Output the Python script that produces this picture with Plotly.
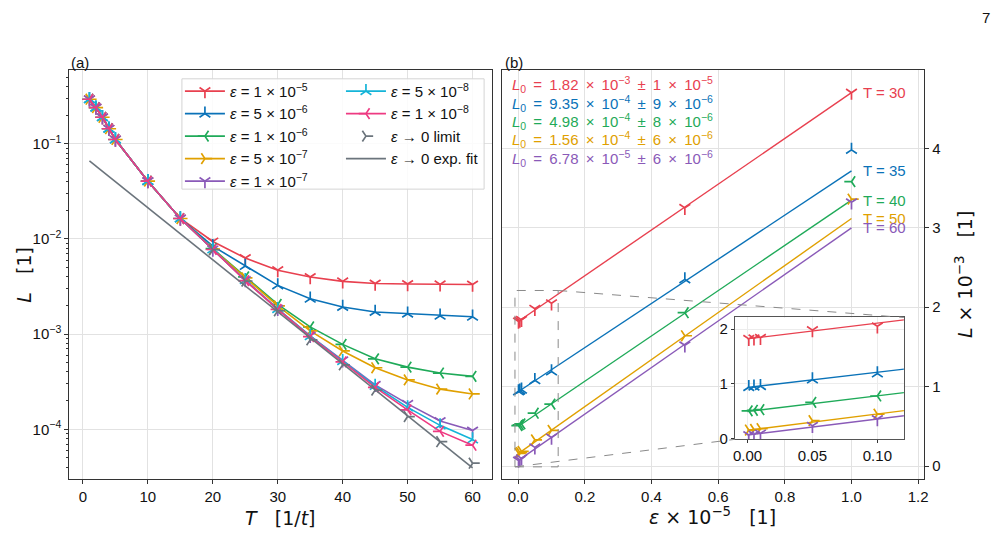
import plotly.graph_objects as go

# ---------------- data ----------------
T_early = [1, 2, 3, 4, 5, 10, 15]
L_early = [0.294, 0.240, 0.190, 0.144, 0.111, 0.0405, 0.0164]
T_late = [20, 25, 30, 35, 40, 45, 50, 55, 60]

eps_labels = ["1 × 10<sup>−5</sup>", "5 × 10<sup>−6</sup>", "1 × 10<sup>−6</sup>",
              "5 × 10<sup>−7</sup>", "1 × 10<sup>−7</sup>", "5 × 10<sup>−8</sup>",
              "1 × 10<sup>−8</sup>"]
eps_scaled = [1.0, 0.5, 0.1, 0.05, 0.01, 0.005, 0.001]   # eps x 1e5

L_eps_1e5 = [9.4e-3, 6.3e-3, 4.70e-3, 3.98e-3, 3.58e-3, 3.40e-3, 3.36e-3, 3.33e-3, 3.32e-3]
L_eps_5e6 = [8.4e-3, 5.2e-3, 3.25e-3, 2.35e-3, 1.93e-3, 1.71e-3, 1.64e-3, 1.56e-3, 1.52e-3]
L_eps_1e6 = [7.9e-3, 4.0e-3, 2.05e-3, 1.19e-3, 0.78e-3, 0.55e-3, 0.45e-3, 0.39e-3, 0.36e-3]
L_eps_5e7 = [7.8e-3, 3.9e-3, 1.98e-3, 1.08e-3, 0.665e-3, 0.443e-3, 0.33e-3, 0.264e-3, 0.235e-3]
L_eps_1e7 = [7.75e-3, 3.7e-3, 1.84e-3, 0.96e-3, 0.53e-3, 0.293e-3, 0.185e-3, 0.122e-3, 0.097e-3]
L_eps_5e8 = [7.75e-3, 3.68e-3, 1.83e-3, 0.95e-3, 0.52e-3, 0.285e-3, 0.17e-3, 0.11e-3, 0.078e-3]
L_eps_1e8 = [7.75e-3, 3.65e-3, 1.82e-3, 0.94e-3, 0.51e-3, 0.275e-3, 0.16e-3, 0.095e-3, 0.068e-3]
L_series = [L_eps_1e5, L_eps_5e6, L_eps_1e6, L_eps_5e7, L_eps_1e7, L_eps_5e8, L_eps_1e8]

T_limit = [20, 25, 30, 35, 40, 45, 50, 55, 60]
L_limit = [7.7e-3, 3.6e-3, 1.76e-3, 8.7e-4, 4.75e-4, 2.58e-4, 1.36e-4, 7.4e-5, 4.4e-5]

T_fitline = [1, 60]
L_fitline = [6.6e-2, 3.93e-5]

# panel (b)
T_fit = [30, 35, 40, 50, 60]
L0 = [1.82, 0.935, 0.498, 0.156, 0.0678]          # x 1e-3
slope = [2.88, 2.78, 2.85, 2.96, 2.93]
L0_mant = ["1.82", "9.35", "4.98", "1.56", "6.78"]
L0_exp = [-3, -4, -4, -4, -5]
err_mant = ["1", "9", "8", "6", "6"]
err_exp = [-5, -6, -6, -6, -6]

# ---------------- style ----------------
colors = ["#E8404F", "#0A72B8", "#1FAA59", "#E0A000", "#8A5AB8", "#14B4D8", "#EE3A82"]
gray = "#6B747C"
symbols = ["y-down", "y-up", "y-left", "y-right"]
FONT = "Liberation Sans, Arial, sans-serif"
MATH = "DejaVu Sans, sans-serif"
W, H = 1002, 537
S = "\u2009"   # thin space for math-like spacing

def px(x):
    return x / W

def py(y):
    return 1 - y / H

dom_a_x = [px(67.7), px(493)]
dom_b_x = [px(502.7), px(927.7)]
dom_y = [py(486), py(71.5)]
dom_in_x = [px(737.3), px(907.3)]
dom_in_y = [py(446), py(322.3)]

rng_a_x = [-2.1, 63.0]
rng_a_y = [-4.52, -0.229]
rng_b_x = [-0.0495, 1.218]
rng_b_y = [-0.16, 4.98]
rng_in_x = [-0.0097, 0.1204]
rng_in_y = [-0.01, 2.21]

fig = go.Figure()

# ---- panel (a)
for i, (lab, Ls) in enumerate(zip(eps_labels, L_series)):
    fig.add_trace(go.Scatter(
        x=T_early + T_late, y=L_early + Ls, mode="lines+markers",
        name="<i>ε</i> = " + lab,
        line=dict(color=colors[i], width=1.6),
        marker=dict(symbol=symbols[i % 4], size=9, color=colors[i],
                    line=dict(color=colors[i], width=1.7)),
        xaxis="x", yaxis="y",
        legend="legend" if i < 5 else "legend2"))

fig.add_trace(go.Scatter(
    x=T_limit, y=L_limit, mode="markers", name="<i>ε</i> → 0 limit",
    marker=dict(symbol=symbols[7 % 4], size=9, color=gray, line=dict(color=gray, width=1.7)),
    xaxis="x", yaxis="y", legend="legend2"))
fig.add_trace(go.Scatter(
    x=T_fitline, y=L_fitline, mode="lines", name="<i>ε</i> → 0 exp. fit",
    line=dict(color=gray, width=1.6), xaxis="x", yaxis="y", legend="legend2"))

# ---- panel (b) + inset
for ax_x, ax_y in [("x2", "y2"), ("x3", "y3")]:
    for k, T in enumerate(T_fit):
        j = T_late.index(T)
        fig.add_trace(go.Scatter(
            x=[0, 1.0], y=[L0[k], L0[k] + slope[k]], mode="lines",
            line=dict(color=colors[k], width=1.4), showlegend=False,
            xaxis=ax_x, yaxis=ax_y, hoverinfo="skip"))
        fig.add_trace(go.Scatter(
            x=eps_scaled, y=[Ls[j] * 1e3 for Ls in L_series], mode="markers",
            marker=dict(symbol=symbols[k % 4], size=9, color=colors[k],
                        line=dict(color=colors[k], width=1.7)),
            showlegend=False, xaxis=ax_x, yaxis=ax_y))

grid = "#e2e2e2"
axline = "#333333"
tickfont = dict(family=FONT, size=15, color="#111")

dec = [1e-4, 1e-3, 1e-2, 1e-1]
minor_vals = [m * d for d in [1e-5, 1e-4, 1e-3, 1e-2, 1e-1] for m in range(2, 10)]

legfont = dict(family=FONT, size=15, color="#111")

fig.update_layout(
    width=W, height=H, margin=dict(l=0, r=0, t=0, b=0),
    paper_bgcolor="white", plot_bgcolor="white",
    font=dict(family=FONT, size=15, color="#111"),
    xaxis=dict(domain=dom_a_x, range=rng_a_x, anchor="y", tickvals=[0, 10, 20, 30, 40, 50, 60],
               ticks="outside", ticklen=4, tickcolor=axline, showline=True, mirror=True,
               linecolor=axline, linewidth=1, showgrid=True, gridcolor=grid, zeroline=False,
               tickfont=tickfont),
    yaxis=dict(domain=dom_y, type="log", range=rng_a_y, anchor="x", tickvals=dec,
               ticktext=["10<sup>−4</sup>", "10<sup>−3</sup>", "10<sup>−2</sup>", "10<sup>−1</sup>"],
               ticks="outside", ticklen=4, tickcolor=axline, showline=True, mirror=True,
               linecolor=axline, linewidth=1, showgrid=True, gridcolor=grid, zeroline=False,
               tickfont=tickfont,
               minor=dict(tickvals=minor_vals, ticks="outside", ticklen=2, tickcolor=axline,
                          showgrid=False)),
    xaxis2=dict(domain=dom_b_x, range=rng_b_x, anchor="y2",
                tickvals=[0, 0.2, 0.4, 0.6, 0.8, 1.0, 1.2], tickformat=".1f",
                ticks="outside", ticklen=4, tickcolor=axline, showline=True, mirror=True,
                linecolor=axline, linewidth=1, showgrid=True, gridcolor=grid, zeroline=False,
                tickfont=tickfont),
    yaxis2=dict(domain=dom_y, range=rng_b_y, anchor="x2", side="right", tickvals=[0, 1, 2, 3, 4],
                ticks="outside", ticklen=4, tickcolor=axline, showline=True, mirror=True,
                linecolor=axline, linewidth=1, showgrid=True, gridcolor=grid, zeroline=False,
                tickfont=tickfont),
    xaxis3=dict(domain=dom_in_x, range=rng_in_x, anchor="y3", tickvals=[0, 0.05, 0.10],
                tickformat=".2f", ticks="outside", ticklen=3, tickcolor=axline, showline=True,
                mirror=True, linecolor="#555", linewidth=1, showgrid=True, gridcolor="#ececec",
                zeroline=False, tickfont=tickfont),
    yaxis3=dict(domain=dom_in_y, range=rng_in_y, anchor="x3", tickvals=[0, 1, 2],
                ticks="outside", ticklen=3, tickcolor=axline, showline=True, mirror=True,
                linecolor="#555", linewidth=1, showgrid=True, gridcolor="#ececec",
                zeroline=False, tickfont=tickfont),
    legend=dict(x=px(179), y=py(76), xanchor="left", yanchor="top", bgcolor="rgba(0,0,0,0)",
                borderwidth=0, font=legfont, tracegroupgap=0, itemwidth=40),
    legend2=dict(x=px(341), y=py(76), xanchor="left", yanchor="top", bgcolor="rgba(0,0,0,0)",
                 borderwidth=0, font=legfont, tracegroupgap=0, itemwidth=40),
)

# legend frame
fig.add_shape(type="rect", xref="paper", yref="paper", x0=px(181), x1=px(485),
              y0=py(192), y1=py(80), line=dict(color="#d4d4d4", width=1),
              fillcolor="rgba(255,255,255,0.85)", layer="above")

# zoom rectangle and connectors
rect_x = [rng_in_x[0], 0.12]
rect_y = [rng_in_y[0], rng_in_y[1]]
fig.add_shape(type="rect", xref="x2", yref="y2", x0=rect_x[0], x1=rect_x[1],
              y0=rect_y[0], y1=rect_y[1], line=dict(color="#8a8a8a", width=1, dash="dash"))

def to_paper(v, rng, dom):
    return dom[0] + (v - rng[0]) / (rng[1] - rng[0]) * (dom[1] - dom[0])

conn = [((rect_x[1], rect_y[1]), (dom_in_x[1], dom_in_y[1])),
        ((rect_x[0], rect_y[0]), (dom_in_x[0], dom_in_y[0]))]
for (dx, dy), (ix, iy) in conn:
    fig.add_shape(type="line", xref="paper", yref="paper",
                  x0=to_paper(dx, rng_b_x, dom_b_x), y0=to_paper(dy, rng_b_y, dom_y),
                  x1=ix, y1=iy, line=dict(color="#8a8a8a", width=1, dash="dash"))

# L0 texts and T labels
for k in range(len(T_fit)):
    txt = ("<i>L</i><sub>0</sub>" + S + " = " + S + L0_mant[k] + S + " × " + S +
           "10<sup>−%d</sup>" % (-L0_exp[k]) + S + " ± " + S + err_mant[k] + S + " × " + S +
           "10<sup>−%d</sup>" % (-err_exp[k]))
    fig.add_annotation(xref="paper", yref="paper", x=px(511), y=py(86 + 18.7 * k),
                       xanchor="left", yanchor="middle", showarrow=False, text=txt,
                       font=dict(family=FONT, size=15, color=colors[k]))
    fig.add_annotation(xref="x2", yref="y2", x=1.0, y=L0[k] + slope[k], xshift=10,
                       xanchor="left", yanchor="middle", showarrow=False,
                       text="T = %d" % T_fit[k], font=dict(family=FONT, size=15, color=colors[k]))

# titles and labels
tfont = dict(family=MATH, size=19, color="#111")
sp = "\u00a0\u00a0\u00a0"
fig.add_annotation(xref="paper", yref="paper", x=px(280), y=py(526), showarrow=False,
                   xanchor="center", yanchor="middle",
                   text="<i>T</i>" + sp + "[1/<i>t</i>]", font=tfont)
fig.add_annotation(xref="paper", yref="paper", x=px(715), y=py(524), showarrow=False,
                   xanchor="center", yanchor="middle",
                   text="<i>ε</i> × 10<sup>−5</sup>" + sp + "[1]", font=tfont)
fig.add_annotation(xref="paper", yref="paper", x=px(22), y=py(279), showarrow=False, textangle=-90,
                   xanchor="center", yanchor="middle",
                   text="<i>L</i>" + sp + "[1]", font=tfont)
fig.add_annotation(xref="paper", yref="paper", x=px(968), y=py(279), showarrow=False, textangle=-90,
                   xanchor="center", yanchor="middle",
                   text="<i>L</i> × 10<sup>−3</sup>" + sp + "[1]", font=tfont)
fig.add_annotation(xref="paper", yref="paper", x=px(67), y=py(63), xanchor="left", yanchor="middle",
                   showarrow=False, text="(a)", font=dict(family=FONT, size=15, color="#111"))
fig.add_annotation(xref="paper", yref="paper", x=px(504), y=py(63), xanchor="left", yanchor="middle",
                   showarrow=False, text="(b)", font=dict(family=FONT, size=15, color="#111"))
fig.add_annotation(xref="paper", yref="paper", x=px(990), y=py(18), xanchor="center", yanchor="middle",
                   showarrow=False, text="7", font=dict(family=FONT, size=15, color="#111"))

fig.write_html("out.html")
